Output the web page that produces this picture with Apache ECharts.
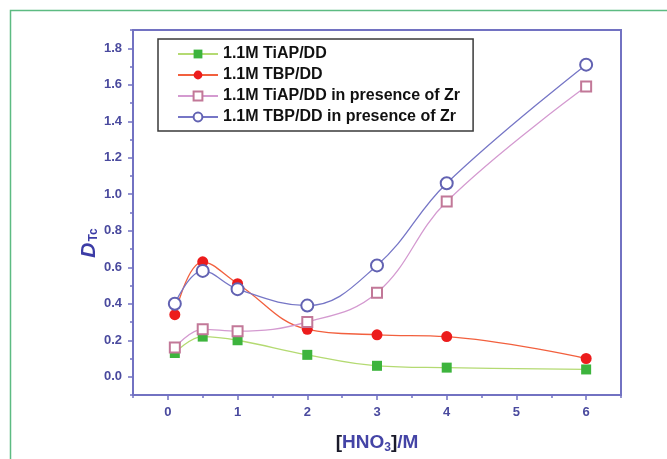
<!DOCTYPE html>
<html>
<head>
<meta charset="utf-8">
<script src="https://cdn.jsdelivr.net/npm/echarts@6/dist/echarts.min.js"></script>
<style>
  html, body { margin: 0; padding: 0; background: #ffffff; }
  #chart { width: 667px; height: 459px; }
</style>
</head>
<body>
<div id="chart"></div>
<script>
// HNO3 concentration (M) at which each extraction was measured
const hno3 = [0.1, 0.5, 1, 2, 3, 4, 6];

// Distribution ratio of Tc for each extractant system
const tiapDD   = [0.13, 0.22, 0.20, 0.12, 0.06, 0.05, 0.04];
const tbpDD    = [0.34, 0.63, 0.51, 0.26, 0.23, 0.22, 0.10];
const tiapDDZr = [0.16, 0.26, 0.25, 0.30, 0.46, 0.96, 1.59];
const tbpDDZr  = [0.40, 0.58, 0.48, 0.39, 0.61, 1.06, 1.71];

const seriesNames = [
  '1.1M TiAP/DD',
  '1.1M TBP/DD',
  '1.1M TiAP/DD in presence of Zr',
  '1.1M TBP/DD in presence of Zr'
];

// Labelled tick positions
const xTicks = [0, 1, 2, 3, 4, 5, 6];
const yTicks = [0.0, 0.2, 0.4, 0.6, 0.8, 1.0, 1.2, 1.4, 1.6, 1.8];

const AXIS = '#7272c2';
const LABEL = '#4a4a9e';
const FONT = '"Liberation Sans", Arial, sans-serif';

const pairs = ys => hno3.map((x, i) => [x, ys[i]]);

const labelStyle = {
  color: LABEL, fontFamily: FONT, fontWeight: 'bold', fontSize: 13
};

const chart = echarts.init(document.getElementById('chart'), null, { renderer: 'canvas' });

chart.setOption({
  backgroundColor: '#ffffff',
  animation: false,
  grid: {
    left: 133, top: 30, right: 46, bottom: 64,
    show: true, borderColor: AXIS, borderWidth: 2, backgroundColor: '#ffffff'
  },
  legend: {
    orient: 'vertical',
    left: 158, top: 39,
    padding: [7, 13, 6, 19],
    itemWidth: 40, itemHeight: 11, itemGap: 5,
    borderColor: '#3a3a3a', borderWidth: 1.5,
    textStyle: { color: '#111111', fontFamily: FONT, fontWeight: 'bold', fontSize: 16 },
    data: seriesNames
  },
  xAxis: [
    {
      type: 'value', min: -0.5, max: 6.5, interval: 0.5,
      axisLine: { show: true, onZero: false, lineStyle: { color: AXIS, width: 2 } },
      axisTick: { show: true, inside: false, length: 3, lineStyle: { color: AXIS, width: 1.5 } },
      axisLabel: { show: false },
      splitLine: { show: false }
    },
    {
      type: 'value', min: -0.5, max: 6.5, position: 'bottom',
      axisLine: { show: false, onZero: false },
      axisTick: { show: true, inside: false, length: 5, customValues: xTicks, lineStyle: { color: AXIS, width: 1.5 } },
      axisLabel: Object.assign({ show: true, margin: 11, customValues: xTicks, formatter: v => String(v) }, labelStyle),
      splitLine: { show: false },
      name: '{b|[}{t|HNO}{sub|3}{b|]}{t|/M}',
      nameLocation: 'middle',
      nameGap: 37,
      nameTextStyle: {
        rich: {
          b: { fontFamily: FONT, fontWeight: 'bold', fontSize: 19, color: '#1a1a2a', lineHeight: 22 },
          t: { fontFamily: FONT, fontWeight: 'bold', fontSize: 19, color: '#4444a6', lineHeight: 22 },
          sub: { fontFamily: FONT, fontWeight: 'bold', fontSize: 12, color: '#4444a6', lineHeight: 12, verticalAlign: 'bottom', padding: [12, 0, 0, 0] }
        }
      }
    }
  ],
  yAxis: [
    {
      type: 'value', min: -0.1, max: 1.9, interval: 0.1,
      axisLine: { show: true, onZero: false, lineStyle: { color: AXIS, width: 2 } },
      axisTick: { show: true, inside: false, length: 3, lineStyle: { color: AXIS, width: 1.5 } },
      axisLabel: { show: false },
      splitLine: { show: false }
    },
    {
      type: 'value', min: -0.1, max: 1.9, position: 'left',
      axisLine: { show: false, onZero: false },
      axisTick: { show: true, inside: false, length: 5, customValues: yTicks, lineStyle: { color: AXIS, width: 1.5 } },
      axisLabel: Object.assign({ show: true, margin: 11, customValues: yTicks, formatter: v => v.toFixed(1) }, labelStyle),
      splitLine: { show: false }
    }
  ],
  graphic: [
    {
      type: 'rect',
      shape: { x: 10.5, y: 10.5, width: 720, height: 520 },
      style: { fill: 'none', stroke: '#5dbb82', lineWidth: 1.5 },
      silent: true
    },
    {
      type: 'text',
      x: 89, y: 243,
      rotation: Math.PI / 2,
      style: {
        text: '{d|D}{s|Tc}',
        align: 'center',
        verticalAlign: 'middle',
        rich: {
          d: { fontFamily: FONT, fontWeight: 'bold', fontStyle: 'italic', fontSize: 21, fill: '#3c3ca6', lineHeight: 22 },
          s: { fontFamily: FONT, fontWeight: 'bold', fontSize: 12, fill: '#3c3ca6', lineHeight: 12, verticalAlign: 'bottom', padding: [10, 0, 0, 1] }
        }
      },
      silent: true
    }
  ],
  series: [
    {
      name: seriesNames[0], type: 'line', smooth: 0.4,
      xAxisIndex: 0, yAxisIndex: 0,
      data: pairs(tiapDD),
      symbol: 'rect', symbolSize: 10,
      lineStyle: { color: '#b4da72', width: 1.3 },
      itemStyle: { color: '#3db43d' }
    },
    {
      name: seriesNames[1], type: 'line', smooth: 0.4,
      xAxisIndex: 0, yAxisIndex: 0,
      data: pairs(tbpDD),
      symbol: 'circle', symbolSize: 11,
      lineStyle: { color: '#f2603e', width: 1.3 },
      itemStyle: { color: '#ec1c1c' }
    },
    {
      name: seriesNames[2], type: 'line', smooth: 0.4,
      xAxisIndex: 0, yAxisIndex: 0,
      data: pairs(tiapDDZr),
      symbol: 'emptyRect', symbolSize: 10,
      lineStyle: { color: '#d49ad0', width: 1.3 },
      itemStyle: { color: '#c27898', borderWidth: 1.2 }
    },
    {
      name: seriesNames[3], type: 'line', smooth: 0.4,
      xAxisIndex: 0, yAxisIndex: 0,
      data: pairs(tbpDDZr),
      symbol: 'emptyCircle', symbolSize: 12,
      lineStyle: { color: '#7676c6', width: 1.3 },
      itemStyle: { color: '#6262b2', borderWidth: 1.2 }
    }
  ]
});
</script>
</body>
</html>
